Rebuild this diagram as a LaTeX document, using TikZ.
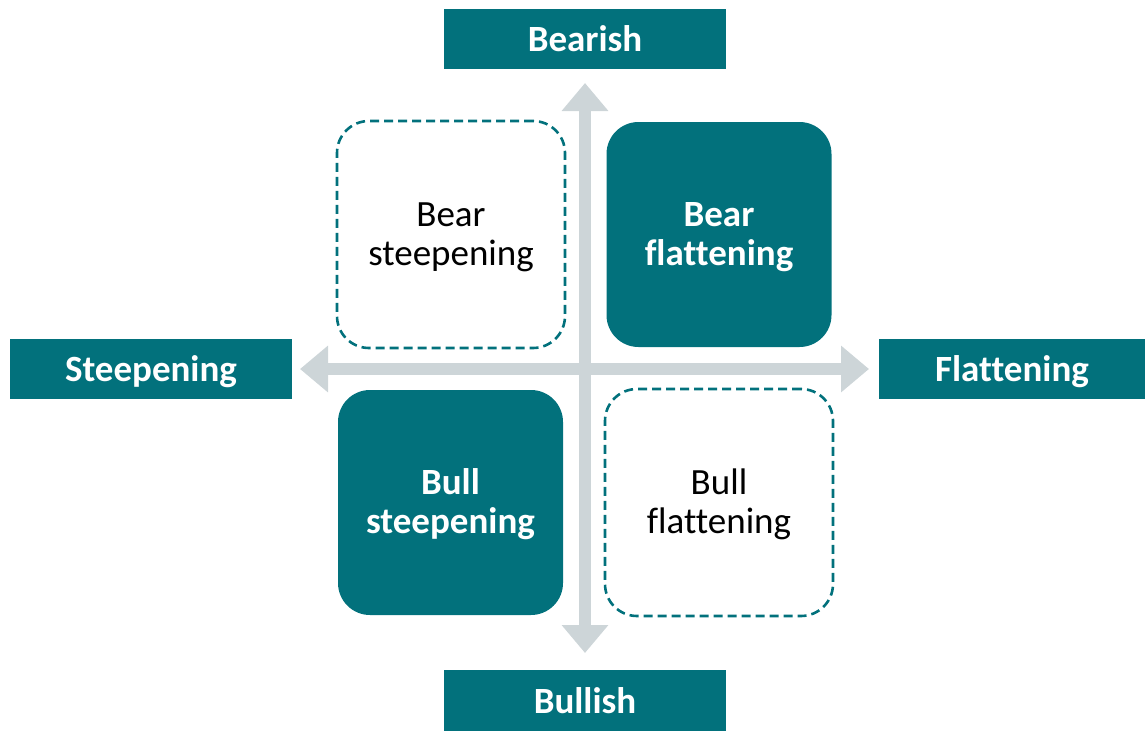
\documentclass[tikz,border=0pt]{standalone}
\usepackage{fontspec}
\setmainfont[Ligatures=NoCommon]{Carlito}
\usetikzlibrary{arrows.meta}
\definecolor{teal1}{RGB}{2,113,124}
\definecolor{axisgray}{RGB}{205,213,216}
\tikzset{
  x=1pt, y=-1pt,
  label box/.style={fill=teal1, text=white, font=\fontsize{37}{39}\selectfont\bfseries,
    minimum height=60pt, inner sep=0pt, outer sep=0pt, text height=25pt, text depth=0pt},
  quad filled/.style={fill=teal1, text=white, rounded corners=32pt,
    minimum width=225pt, minimum height=225pt, align=center,
    font=\fontsize{37}{39}\selectfont\bfseries, inner sep=0pt,
    text height=63pt, text depth=1pt},
  quad dashed/.style={draw=teal1, line width=2.6pt, dash pattern=on 9pt off 5pt,
    rounded corners=32pt, minimum width=228pt, minimum height=227pt, align=center,
    font=\fontsize{37}{39}\selectfont, inner sep=0pt,
    text height=63pt, text depth=1pt},
  axis arrow/.style={draw=axisgray, line width=12pt,
    arrows={Triangle[length=28pt 0 0, width=45pt 0 0]-Triangle[length=28pt 0 0, width=45pt 0 0]}},
}
\begin{document}
\begin{tikzpicture}
\useasboundingbox (0,0) rectangle (1145,731);
% axes
\coordinate (vtop) at (585,83);
\coordinate (vbot) at (585,653);
\coordinate (hleft) at (300,369);
\coordinate (hright) at (869,369);
\draw[axis arrow] (vtop) -- (vbot);
\draw[axis arrow] (hleft) -- (hright);
% axis labels
\node[label box, minimum width=282pt] (bearish) at (585,38.5) {Bearish};
\node[label box, minimum width=282pt, minimum height=61pt] (bullish) at (585,700.5) {Bullish};
\node[label box, minimum width=282pt] (steep) at (151,369) {Steepening};
\node[label box, minimum width=266pt] (flat) at (1012,369) {Flattening};
% quadrants
\node[quad dashed] (bearsteep) at (451,234.5) {Bear\\steepening};
\node[quad filled] (bearflat) at (719,234.5) {Bear\\flattening};
\node[quad filled] (bullsteep) at (450.5,502.5) {Bull\\steepening};
\node[quad dashed] (bullflat) at (719,502.5) {Bull\\flattening};
\end{tikzpicture}
\end{document}
